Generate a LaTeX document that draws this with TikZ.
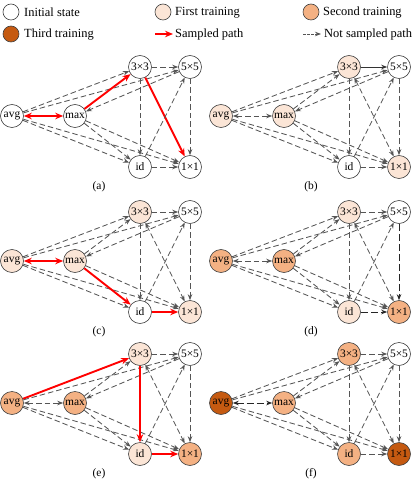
\documentclass[tikz,border=0pt]{standalone}
\usepackage{fontspec}
\setmainfont{Liberation Serif}
\usetikzlibrary{arrows.meta}
\definecolor{cinit}{HTML}{FFFFFF}
\definecolor{cfirst}{HTML}{FBE5D6}
\definecolor{csecond}{HTML}{F4B183}
\definecolor{cthird}{HTML}{C55A11}
\definecolor{edgegray}{HTML}{555555}
\tikzset{
  opnode/.style={circle, draw=black!75, line width=0.6bp, minimum size=23bp, inner sep=0pt, font=\fontsize{11.5}{12}\selectfont},
  legc/.style={circle, draw=black!75, line width=0.6bp, minimum size=16bp, inner sep=0pt},
  legtext/.style={anchor=west, inner sep=0pt, font=\fontsize{12.5}{14}\selectfont},
  captext/.style={font=\fontsize{11.5}{13}\selectfont, inner sep=0pt},
  gtip/.tip={Stealth[length=6bp,width=4.5bp]},
  rtip/.tip={Stealth[length=8bp,width=6.5bp]},
  ed/.style={draw=edgegray, line width=0.85bp, dash pattern=on 5.5bp off 3bp, -gtip},
  redge/.style={draw=red, solid, line width=1.9bp, -rtip},
  redboth/.style={draw=red, solid, line width=1.9bp, rtip-rtip},
  darkd/.style={draw=black!85, dash pattern=on 7bp off 3bp},
  darks/.style={draw=black!80, solid},
  e1/.style={gtip-gtip}, e2/.style={}, e3/.style={}, e4/.style={}, e5/.style={},
  e6/.style={}, e7/.style={}, e8/.style={}, e9/.style={}, e10/.style={},
  e11/.style={}, e12/.style={gtip-gtip}, e13/.style={}, e14/.style={}, e15/.style={}
}
\newcommand\cellnodes[9]{%
  \node[opnode, fill=#4] (#1-avg) at (12+#2, 116+#3) {avg};
  \node[opnode, fill=#5] (#1-max) at (75+#2, 116+#3) {max};
  \node[opnode, fill=#6] (#1-tt) at (140+#2, 67+#3) {3×3};
  \node[opnode, fill=#7] (#1-ff) at (190+#2, 67+#3) {5×5};
  \node[opnode, fill=#8] (#1-id) at (140+#2, 167+#3) {id};
  \node[opnode, fill=#9] (#1-oo) at (190+#2, 167+#3) {1×1};
}
\newcommand\alledges[1]{%
  \draw[ed,e1] (#1-avg) -- (#1-max);
  \draw[ed,e2] (#1-avg) -- (#1-tt);
  \draw[ed,e3] (#1-avg) -- (#1-ff);
  \draw[ed,e4] (#1-avg) -- (#1-id);
  \draw[ed,e5] (#1-avg) -- (#1-oo);
  \draw[ed,e6] (#1-max) -- (#1-tt);
  \draw[ed,e7] (#1-ff) -- (#1-max);
  \draw[ed,e8] (#1-max) -- (#1-id);
  \draw[ed,e9] (#1-max) -- (#1-oo);
  \draw[ed,e10] (#1-tt) -- (#1-ff);
  \draw[ed,e11] (#1-tt) -- (#1-id);
  \draw[ed,e12] (#1-tt) -- (#1-oo);
  \draw[ed,e13] (#1-ff) -- (#1-oo);
  \draw[ed,e14] (#1-id) -- (#1-ff);
  \draw[ed,e15] (#1-id) -- (#1-oo);
}
\begin{document}
\begin{tikzpicture}[x=1bp, y=-1bp]
\useasboundingbox (0,0) rectangle (415,481);
% legend
\node[legc, fill=cinit] (l1) at (11,12) {};
\node[legtext] (t1) at (24,12.5) {Initial state};
\node[legc, fill=cfirst] (l2) at (163,12) {};
\node[legtext] (t2) at (175,12.5) {First training};
\node[legc, fill=csecond] (l3) at (311,12) {};
\node[legtext] (t3) at (323,12.5) {Second training};
\node[legc, fill=cthird] (l4) at (11,34) {};
\node[legtext] (t4) at (24,34.5) {Third training};
\coordinate (r1) at (155,34);
\coordinate (r2) at (173,34);
\draw[redge] (r1) -- (r2);
\node[legtext] (t5) at (175,34.5) {Sampled path};
\coordinate (g1) at (303,34);
\coordinate (g2) at (321,34);
\draw[ed, dash pattern=on 2.5bp off 1.5bp] (g1) -- (g2);
\node[legtext] (t6) at (324,34.5) {Not sampled path};

% (a)
\cellnodes{a}{0}{0}{cinit}{cinit}{cinit}{cinit}{cinit}{cinit}
\begin{scope}[e1/.style={redboth}, e6/.style={redge}, e12/.style={redge}]
\alledges{a}
\end{scope}
\node[captext] (ca) at (99,187) {(a)};

% (b)
\cellnodes{b}{209}{0}{cfirst}{cfirst}{cfirst}{cinit}{cinit}{cfirst}
\begin{scope}[e10/.style={darks}]
\alledges{b}
\end{scope}
\node[captext] (cb) at (311,187) {(b)};

% (c)
\cellnodes{c}{0}{145}{cfirst}{cfirst}{cfirst}{cinit}{cinit}{cfirst}
\begin{scope}[e1/.style={redboth}, e8/.style={redge}, e15/.style={redge}]
\alledges{c}
\end{scope}
\node[captext] (cc) at (99,332) {(c)};

% (d)
\cellnodes{d}{209}{145}{csecond}{csecond}{cfirst}{cinit}{cfirst}{csecond}
\begin{scope}[e13/.style={darkd}, e15/.style={darkd}]
\alledges{d}
\end{scope}
\node[captext] (cd) at (311,332) {(d)};

% (e)
\cellnodes{e}{0}{287}{csecond}{csecond}{cfirst}{cinit}{cfirst}{csecond}
\begin{scope}[e2/.style={redge}, e11/.style={redge}, e15/.style={redge}]
\alledges{e}
\end{scope}
\node[captext] (ce) at (99,474) {(e)};

% (f)
\cellnodes{f}{209}{287}{cthird}{csecond}{csecond}{cinit}{csecond}{cthird}
\begin{scope}[e1/.style={gtip-gtip, darkd}]
\alledges{f}
\end{scope}
\node[captext] (cf) at (311,474) {(f)};
\end{tikzpicture}
\end{document}
